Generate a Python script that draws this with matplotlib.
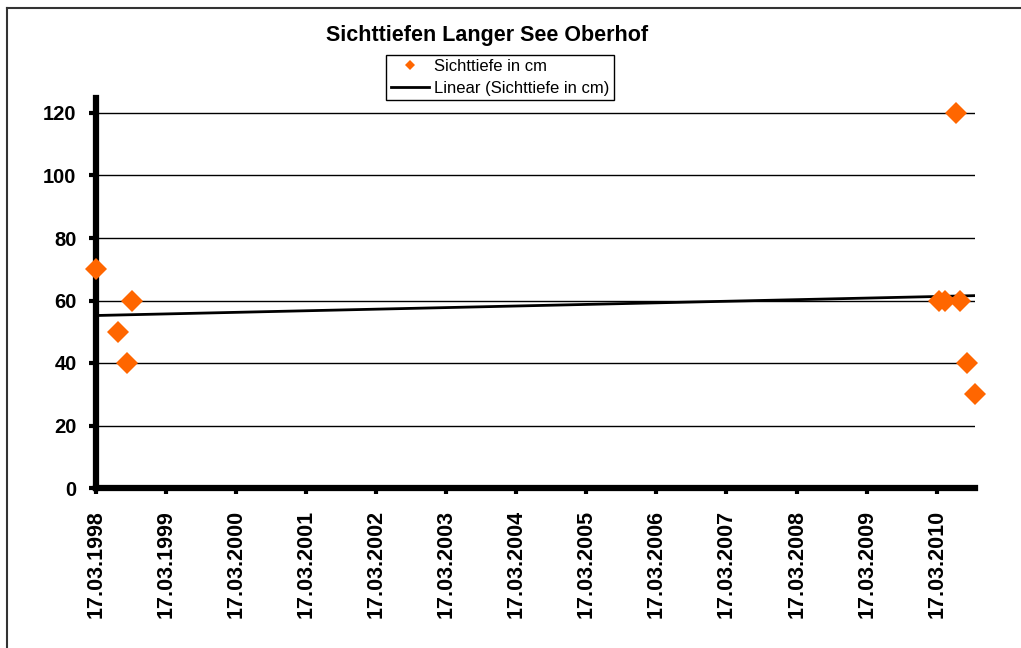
import matplotlib

matplotlib.use("Agg")
import matplotlib.pyplot as plt
import matplotlib.dates as mdates
import numpy as np
import pandas as pd
from matplotlib.lines import Line2D

plt.rcParams["font.family"] = ["Liberation Sans", "DejaVu Sans"]

# Sichttiefe measurements (date, cm)
dates = [
    "1998-03-17", "1998-07-11", "1998-08-24", "1998-09-22",
    "2010-03-31", "2010-04-29", "2010-06-26", "2010-07-16",
    "2010-08-23", "2010-10-03",
]
depth_cm = [70, 50, 40, 60, 60, 60, 120, 60, 40, 30]
y_ticks = [0, 20, 40, 60, 80, 100, 120]
tick_years = list(range(1998, 2011))

title = "Sichttiefen Langer See Oberhof"
series_label = "Sichttiefe in cm"
trend_label = "Linear (Sichttiefe in cm)"

orange = "#ff6600"

d = pd.to_datetime(dates)
x = mdates.date2num(d)
y = np.array(depth_cm, dtype=float)

# linear trendline, Excel style
slope, icpt = np.polyfit(x, y, 1)
tx = np.array([x.min(), x.max()])
ty = slope * tx + icpt

fig = plt.figure(figsize=(10.21, 6.48), dpi=100)
ax = fig.add_axes([96 / 1021, 1 - 488 / 648, (975 - 96) / 1021, (488 - 98) / 648])

for v in y_ticks[1:]:
    ax.axhline(v, color="black", lw=1.0, zorder=1)

ax.plot(tx, ty, color="black", lw=2.0, zorder=2)
ax.plot(x, y, linestyle="none", marker="D", markersize=11, color=orange,
        markeredgewidth=0, zorder=3, clip_on=False)

ax.set_xlim(x.min(), x.max())
ax.set_ylim(0, 124.8)
ax.set_yticks(y_ticks)
ax.set_yticklabels([str(v) for v in y_ticks], fontsize=14.5, fontweight="bold")

xt = mdates.date2num(pd.to_datetime([f"{yr}-03-17" for yr in tick_years]))
ax.set_xticks(xt)
ax.set_xticklabels([f"17.03.{yr}" for yr in tick_years], rotation=90,
                   fontsize=15.5, fontweight="bold", va="top")

for side in ("top", "right"):
    ax.spines[side].set_visible(False)
for side in ("left", "bottom"):
    ax.spines[side].set_linewidth(4.5)
    ax.spines[side].set_color("black")
ax.tick_params(axis="y", length=5, width=3, direction="out", pad=9)
ax.tick_params(axis="x", length=4, width=3, direction="out", pad=12)

fig.text(487.5 / 1021, 1 - 36 / 648, title, ha="center", va="center",
         fontsize=15.5, fontweight="bold")

handles = [
    Line2D([], [], linestyle="none", marker="D", markersize=5, color=orange,
           markeredgewidth=0),
    Line2D([], [], color="black", lw=2.0),
]
leg = fig.legend(handles, [series_label, trend_label], loc="center",
                 bbox_to_anchor=(500 / 1021, 1 - 77.5 / 648),
                 bbox_transform=fig.transFigure, fontsize=12,
                 frameon=True, fancybox=False, framealpha=1,
                 edgecolor="black", handlelength=2.3, handletextpad=0.3,
                 labelspacing=0.45, borderpad=0.25, borderaxespad=0)
leg.get_frame().set_linewidth(1.0)

# chart area border (only left and top visible in the crop)
fig.add_artist(Line2D([6.5 / 1021, 6.5 / 1021], [0, 1 - 7.5 / 648],
                      transform=fig.transFigure, color="#333333", lw=1.5))
fig.add_artist(Line2D([6.5 / 1021, 1], [1 - 7.5 / 648, 1 - 7.5 / 648],
                      transform=fig.transFigure, color="#333333", lw=1.5))

fig.savefig("out.png", dpi=100)
plt.close(fig)
